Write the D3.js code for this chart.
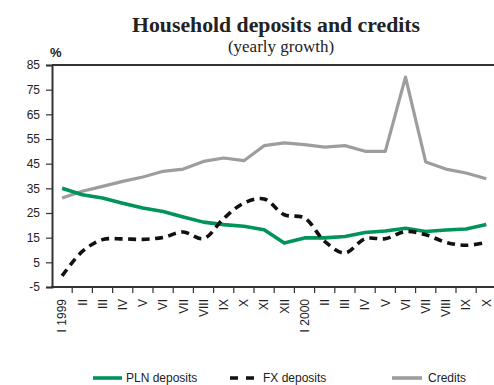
<!DOCTYPE html>
<html>
<head>
<meta charset="utf-8">
<script src="https://cdn.jsdelivr.net/npm/d3@7"></script>
<style>
  html, body { margin: 0; padding: 0; background: #fff; }
  svg { display: block; }
  .narrow { font-family: "Liberation Sans Narrow", "Arial Narrow", "Liberation Sans", Arial, sans-serif; }
</style>
</head>
<body>
<svg id="chart" width="494" height="385"></svg>
<script>
// Months, Jan 1999 – Oct 2000
const months = ["I 1999", "II", "III", "IV", "V", "VI", "VII", "VIII", "IX", "X", "XI", "XII",
                "I 2000", "II", "III", "IV", "V", "VI", "VII", "VIII", "IX", "X"];
// Yearly growth, %
const plnDeposits = [35, 32.4, 31.1, 29, 27, 25.6, 23.4, 21.3, 20.3, 19.6, 18.2, 12.8,
                     14.9, 14.9, 15.5, 17.1, 17.7, 18.8, 17.5, 18.1, 18.5, 20.3];
const fxDeposits = [-0.5, 9.4, 14.2, 14.5, 14.3, 15.1, 17.3, 14.6, 22.8, 29, 30.7, 24.3,
                    23, 13.5, 8.8, 14.6, 14.6, 17.5, 16.2, 13.1, 11.9, 13.1];
const credits = [31.1, 33.8, 35.8, 37.8, 39.6, 41.9, 42.8, 45.9, 47.3, 46.2, 52.3, 53.4,
                 52.7, 51.7, 52.3, 50, 50, 80.1, 45.7, 42.8, 41.2, 38.9];
const yTicks = [-5, 5, 15, 25, 35, 45, 55, 65, 75, 85];

const seriesNames = ["PLN deposits", "FX deposits", "Credits"];

const svg = d3.select("#chart");
const W = 494;
const plotLeft = 52, plotTop = 65, plotBottom = 287;
const band = 20.2;

const x = d3.scaleBand()
  .domain(d3.range(months.length))
  .range([plotLeft, plotLeft + band * months.length]);
const y = d3.scaleLinear().domain([-5, 85]).range([plotBottom, plotTop]);
const cx = i => x(i) + x.bandwidth() / 2;

// Title
svg.append("text")
  .attr("x", 276).attr("y", 32)
  .attr("text-anchor", "middle")
  .style("font-family", "'Liberation Serif', 'Times New Roman', serif")
  .style("font-weight", "bold")
  .style("font-size", "20px")
  .attr("textLength", 288).attr("lengthAdjust", "spacingAndGlyphs")
  .attr("fill", "#222")
  .text("Household deposits and credits");
svg.append("text")
  .attr("x", 281).attr("y", 52)
  .attr("text-anchor", "middle")
  .style("font-family", "'Liberation Serif', 'Times New Roman', serif")
  .style("font-size", "17px")
  .attr("fill", "#222")
  .text("(yearly growth)");

svg.append("text")
  .attr("x", 50).attr("y", 57)
  .style("font-family", "'Liberation Sans', Arial, sans-serif")
  .style("font-weight", "bold")
  .style("font-size", "13px")
  .attr("fill", "#222")
  .text("%");

// Top frame line
svg.append("line")
  .attr("x1", plotLeft).attr("x2", W)
  .attr("y1", plotTop).attr("y2", plotTop)
  .attr("stroke", "#333").attr("stroke-width", 2);

// Y axis
const yAxis = svg.append("g")
  .attr("transform", `translate(${plotLeft},0)`)
  .call(d3.axisLeft(y).tickValues(yTicks).tickSize(6).tickPadding(6).tickFormat(d => String(d)));
yAxis.select(".domain").attr("stroke", "#333").attr("stroke-width", 2);
yAxis.selectAll(".tick line").attr("stroke", "#333").attr("stroke-width", 1.2);
yAxis.selectAll(".tick text")
  .attr("class", "narrow")
  .style("font-size", "12px")
  .attr("fill", "#222");

// X axis: ticks at month boundaries
const xg = svg.append("g");
xg.append("line")
  .attr("x1", plotLeft - 1).attr("x2", W)
  .attr("y1", plotBottom).attr("y2", plotBottom)
  .attr("stroke", "#333").attr("stroke-width", 2);
xg.selectAll("line.tk")
  .data(d3.range(1, months.length + 1))
  .join("line")
  .attr("class", "tk")
  .attr("x1", i => x(0) + i * x.step()).attr("x2", i => x(0) + i * x.step())
  .attr("y1", plotBottom).attr("y2", plotBottom + 6)
  .attr("stroke", "#333").attr("stroke-width", 1.2);
xg.selectAll("text")
  .data(months)
  .join("text")
  .attr("class", "narrow")
  .attr("transform", (d, i) => `translate(${cx(i)},${plotBottom + 12}) rotate(-90)`)
  .attr("text-anchor", "end")
  .attr("dy", "0.35em")
  .style("font-size", "12px")
  .attr("fill", "#222")
  .text(d => d);

// Lines
const lineLinear = d3.line().x((d, i) => cx(i)).y(d => y(d));
const lineSmooth = d3.line().x((d, i) => cx(i)).y(d => y(d)).curve(d3.curveCatmullRom.alpha(0.5));

const styles = [
  { data: credits, gen: lineLinear, color: "#9d9d9d", width: 3.2, dash: null },
  { data: plnDeposits, gen: lineLinear, color: "#00935a", width: 3.6, dash: null },
  { data: fxDeposits, gen: lineSmooth, color: "#111", width: 3.6, dash: "8,5.5" }
];
styles.forEach(s => {
  svg.append("path")
    .datum(s.data)
    .attr("d", s.gen)
    .attr("fill", "none")
    .attr("stroke", s.color)
    .attr("stroke-width", s.width)
    .attr("stroke-dasharray", s.dash)
    .attr("stroke-linejoin", "round");
});

// Legend
const legendY = 378;
const legendItems = [
  { name: seriesNames[0], color: "#00935a", dash: null, x1: 93, x2: 122, tx: 126 },
  { name: seriesNames[1], color: "#111", dash: "8,8", x1: 230, x2: 255, tx: 263 },
  { name: seriesNames[2], color: "#9d9d9d", dash: null, x1: 392, x2: 422, tx: 428 }
];
const lg = svg.append("g");
legendItems.forEach(it => {
  lg.append("line")
    .attr("x1", it.x1).attr("x2", it.x2)
    .attr("y1", legendY).attr("y2", legendY)
    .attr("stroke", it.color).attr("stroke-width", 3.6)
    .attr("stroke-dasharray", it.dash);
  lg.append("text")
    .attr("class", "narrow")
    .attr("x", it.tx).attr("y", legendY)
    .attr("dy", "0.35em")
    .style("font-size", "12px")
    .attr("fill", "#222")
    .text(it.name);
});
</script>
</body>
</html>
